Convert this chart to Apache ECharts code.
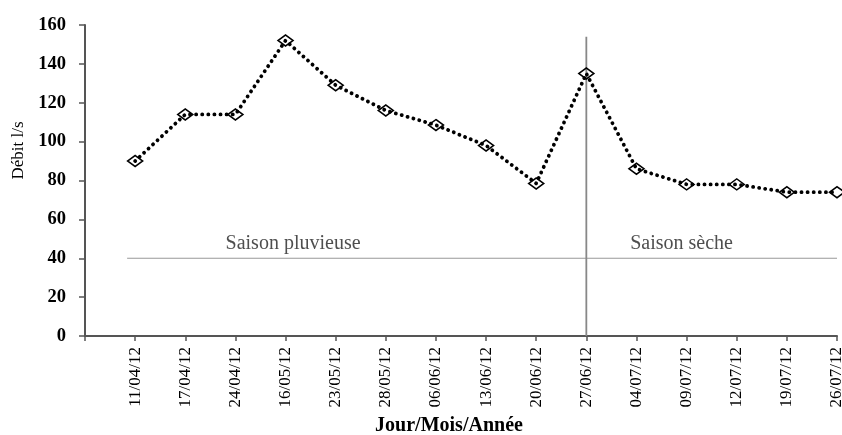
<!DOCTYPE html>
<html>
<head>
<meta charset="utf-8">
<script src="https://cdn.jsdelivr.net/npm/echarts@6/dist/echarts.min.js"></script>
<style>
  html, body { margin: 0; padding: 0; background: #fff; }
  #chart { width: 842px; height: 435px; }
</style>
</head>
<body>
<div id="chart"></div>
<script>
// dates of the measurements (leading blank slot = first gap of the axis)
const dates = ['', '11/04/12', '17/04/12', '24/04/12', '16/05/12', '23/05/12', '28/05/12', '06/06/12',
  '13/06/12', '20/06/12', '27/06/12', '04/07/12', '09/07/12', '12/07/12', '19/07/12', '26/07/12'];
// flow (l/s)
const debit = ['-', 90, 114, 114, 152, 129, 116, 108.5, 98, 78.5, 135, 86, 78, 78, 74, 74];
const yTicks = { min: 0, max: 160, interval: 20 };
// season separators, expressed in slot units of the date axis
const seasonLine = [[0.84, 40], [15, 40]];
const splitLine = [[10, 0], [10, 154]];
const seasonLabels = [[4.15, 40, 'Saison pluvieuse'], [11.9, 40, 'Saison sèche']];

const serif = '"Liberation Serif", "DejaVu Serif", serif';
const chart = echarts.init(document.getElementById('chart'));

chart.setOption({
  animation: false,
  grid: { left: 85, right: 5, top: 25, bottom: 99, outerBoundsMode: 'none' },
  xAxis: [{
    type: 'category',
    data: dates,
    boundaryGap: false,
    name: 'Jour/Mois/Année',
    nameLocation: 'middle',
    nameGap: 79,
    nameTextStyle: { fontFamily: serif, fontSize: 20, fontWeight: 'bold', color: '#000', padding: [0, 24, 0, 0] },
    axisLine: { lineStyle: { color: '#555', width: 2 } },
    axisTick: { alignWithLabel: true, length: 5, lineStyle: { color: '#555', width: 1.5 } },
    axisLabel: { rotate: 90, interval: 0, margin: 11, fontFamily: serif, fontSize: 17, color: '#000' }
  }, {
    type: 'value',
    min: 0,
    max: 15,
    show: false
  }],
  yAxis: {
    type: 'value',
    min: yTicks.min,
    max: yTicks.max,
    interval: yTicks.interval,
    name: 'Débit l/s',
    nameLocation: 'middle',
    nameGap: 54,
    nameTextStyle: { fontFamily: serif, fontSize: 17, color: '#000', padding: [0, 0, 0, 60] },
    axisLine: { show: true, lineStyle: { color: '#555', width: 2 } },
    axisTick: { show: true, length: 6, lineStyle: { color: '#555', width: 1.5 } },
    axisLabel: { fontFamily: serif, fontSize: 18.5, fontWeight: 'bold', color: '#000', margin: 19 },
    splitLine: { show: false }
  },
  series: [{
    type: 'line',
    xAxisIndex: 1,
    data: seasonLine,
    symbol: 'none',
    silent: true,
    lineStyle: { color: '#999', width: 1.2 }
  }, {
    type: 'line',
    xAxisIndex: 1,
    data: splitLine,
    symbol: 'none',
    silent: true,
    lineStyle: { color: '#888', width: 1.8 }
  }, {
    type: 'scatter',
    xAxisIndex: 1,
    data: seasonLabels,
    symbolSize: 0,
    silent: true,
    label: {
      show: true,
      position: 'top',
      distance: 5,
      formatter: p => p.data[2],
      fontFamily: serif,
      fontSize: 20,
      color: '#222'
    }
  }, {
    type: 'line',
    data: debit,
    symbol: 'diamond',
    symbolSize: [15, 11],
    itemStyle: { color: 'rgba(0,0,0,0)', borderColor: '#000', borderWidth: 1.6 },
    lineStyle: { color: '#000', width: 3.8, type: [0.1, 6], cap: 'round' }
  }]
});
</script>
</body>
</html>
